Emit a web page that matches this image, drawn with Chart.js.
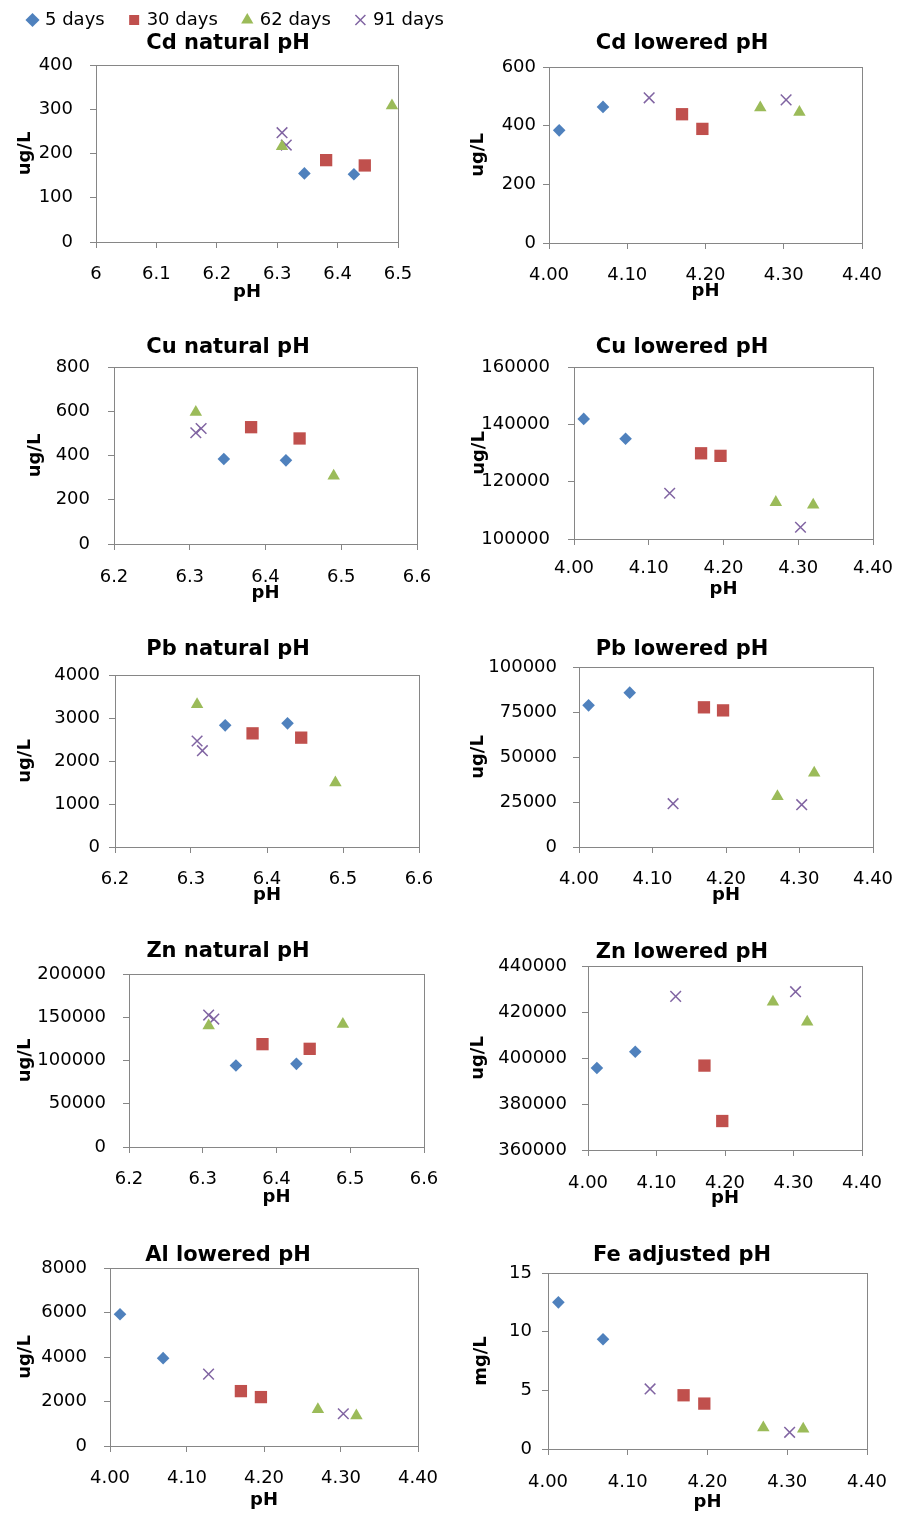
<!DOCTYPE html>
<html>
<head>
<meta charset="utf-8">
<script src="https://cdn.jsdelivr.net/npm/chart.js@4.4.0/dist/chart.umd.min.js"></script>
<style>
html,body{margin:0;padding:0;background:#fff;}
body{width:897px;height:1513px;position:relative;overflow:hidden;}
canvas{position:absolute;}
</style>
</head>
<body>
<script>
// ---------- DATA ----------
const seriesNames = ['5 days', '30 days', '62 days', '91 days'];

// pH of the two samples in each series
const phNatural = [[6.345, 6.427], [6.381, 6.445], [6.308, 6.490], [6.308, 6.315]];
const phLowered = [[4.013, 4.069], [4.170, 4.196], [4.270, 4.320], [4.128, 4.303]];

// concentrations (same order as pH arrays)
const cdNatural  = [[155, 153], [185, 173], [216, 308], [247, 219]];
const cdLowered  = [[384, 464], [439, 389], [461, 446], [495, 488]];
const cuNatural  = [[384, 378], [528, 477], [596, 308], [503, 522]];
const cuLowered  = [[141900, 134950], [129900, 129000], [112800, 111900], [115960, 104100]];
const pbNatural  = [[2829, 2876], [2643, 2543], [3318, 1496], [2465, 2240]];
const pbLowered  = [[78700, 85740], [77600, 75900], [28150, 41100], [24070, 23520]];
const znNatural  = [[94200, 96100], [118900, 113500], [140150, 142100], [152500, 147900]];
const znLowered  = [[395650, 402750], [396700, 372600], [424350, 415650], [426800, 428840]];
const alLowered  = [[5921, 3948], [2467, 2198], [1645, 1361], [3230, 1450]];
const feAdjusted = [[12.5, 9.36], [4.58, 3.87], [1.82, 1.71], [5.12, 1.42]];

// tick labels
const xLabelsNaturalCd = ['6', '6.1', '6.2', '6.3', '6.4', '6.5'];
const xLabelsNatural   = ['6.2', '6.3', '6.4', '6.5', '6.6'];
const xLabelsLowered   = ['4.00', '4.10', '4.20', '4.30', '4.40'];
const yLabelsCdNatural  = ['0', '100', '200', '300', '400'];
const yLabelsCdLowered  = ['0', '200', '400', '600'];
const yLabelsCuNatural  = ['0', '200', '400', '600', '800'];
const yLabelsCuLowered  = ['100000', '120000', '140000', '160000'];
const yLabelsPbNatural  = ['0', '1000', '2000', '3000', '4000'];
const yLabelsPbLowered  = ['0', '25000', '50000', '75000', '100000'];
const yLabelsZnNatural  = ['0', '50000', '100000', '150000', '200000'];
const yLabelsZnLowered  = ['360000', '380000', '400000', '420000', '440000'];
const yLabelsAlLowered  = ['0', '2000', '4000', '6000', '8000'];
const yLabelsFeAdjusted = ['0', '5', '10', '15'];

const panels = [
  {title: 'Cd natural pH', ph: phNatural, values: cdNatural, xLabels: xLabelsNaturalCd, yLabels: yLabelsCdNatural, yTitle: 'ug/L'},
  {title: 'Cd lowered pH', ph: phLowered, values: cdLowered, xLabels: xLabelsLowered, yLabels: yLabelsCdLowered, yTitle: 'ug/L'},
  {title: 'Cu natural pH', ph: phNatural, values: cuNatural, xLabels: xLabelsNatural, yLabels: yLabelsCuNatural, yTitle: 'ug/L'},
  {title: 'Cu lowered pH', ph: phLowered, values: cuLowered, xLabels: xLabelsLowered, yLabels: yLabelsCuLowered, yTitle: 'ug/L'},
  {title: 'Pb natural pH', ph: phNatural, values: pbNatural, xLabels: xLabelsNatural, yLabels: yLabelsPbNatural, yTitle: 'ug/L'},
  {title: 'Pb lowered pH', ph: phLowered, values: pbLowered, xLabels: xLabelsLowered, yLabels: yLabelsPbLowered, yTitle: 'ug/L'},
  {title: 'Zn natural pH', ph: phNatural, values: znNatural, xLabels: xLabelsNatural, yLabels: yLabelsZnNatural, yTitle: 'ug/L'},
  {title: 'Zn lowered pH', ph: phLowered, values: znLowered, xLabels: xLabelsLowered, yLabels: yLabelsZnLowered, yTitle: 'ug/L'},
  {title: 'Al lowered pH', ph: phLowered, values: alLowered, xLabels: xLabelsLowered, yLabels: yLabelsAlLowered, yTitle: 'ug/L'},
  {title: 'Fe adjusted pH', ph: phLowered, values: feAdjusted, xLabels: xLabelsLowered, yLabels: yLabelsFeAdjusted, yTitle: 'mg/L'}
];

// ---------- STYLE / LAYOUT ----------
const seriesStyles = [
  {pointStyle: 'rectRot',  color: '#4F81BD', radius: 6.3, border: 0},
  {pointStyle: 'rect',     color: '#C0504D', radius: 8.7, border: 0},
  {pointStyle: 'triangle', color: '#9BBB59', radius: 7.2, border: 0},
  {pointStyle: 'crossRot', color: '#8064A2', radius: 7.5, border: 1.5}
];

// plot-area boxes and text anchor positions measured on the page
const boxes = [
  {L: 96,  T: 65,   R: 398, B: 242,  tcy: 44,   ycx: 25,  ygap: 23, xtc: 274.5, pcy: 292},
  {L: 549, T: 67,   R: 862, B: 243,  tcy: 44,   ycx: 478, ygap: 13, xtc: 275,   pcy: 291},
  {L: 114, T: 367,  R: 417, B: 544,  tcy: 348,  ycx: 35,  ygap: 24, xtc: 577,   pcy: 593},
  {L: 574, T: 367,  R: 873, B: 539,  tcy: 348,  ycx: 479, ygap: 24, xtc: 568,   pcy: 589},
  {L: 115, T: 675,  R: 419, B: 847,  tcy: 650,  ycx: 25,  ygap: 15, xtc: 879,   pcy: 895},
  {L: 579, T: 667,  R: 873, B: 847,  tcy: 650,  ycx: 478, ygap: 22, xtc: 879,   pcy: 895},
  {L: 129, T: 974,  R: 424, B: 1147, tcy: 952,  ycx: 25,  ygap: 23, xtc: 1179,  pcy: 1197},
  {L: 588, T: 966,  R: 862, B: 1150, tcy: 953,  ycx: 478, ygap: 21, xtc: 1183,  pcy: 1198},
  {L: 110, T: 1268, R: 418, B: 1446, tcy: 1256, ycx: 25,  ygap: 23, xtc: 1478,  pcy: 1500},
  {L: 548, T: 1273, R: 867, B: 1449, tcy: 1256, ycx: 481, ygap: 16, xtc: 1482,  pcy: 1502}
];

const FRAME = '#868686';
const TITLE_SIZE = 21, TICK_SIZE = 18, AXIS_TITLE_SIZE = 18, LEGEND_SIZE = 18, LEGEND_PAD = 26;

Chart.defaults.font.family = "'DejaVu Sans', sans-serif";
Chart.defaults.color = '#000';

const framePlugin = {
  id: 'frame',
  beforeDatasetsDraw(chart) {
    const {ctx, chartArea: a} = chart;
    ctx.save();
    ctx.strokeStyle = FRAME;
    ctx.lineWidth = 1;
    ctx.strokeRect(Math.round(a.left) + 0.5, Math.round(a.top) + 0.5,
                   Math.round(a.right - a.left), Math.round(a.bottom - a.top));
    ctx.restore();
  }
};

function makeChart(panel, i) {
  const b = boxes[i];
  const leftCol = i % 2 === 0;
  let x0 = leftCol ? 3 : 468, w = leftCol ? 450 : 428;
  const tLH = TITLE_SIZE;
  let y0, tPadTop;
  if (i === 0) {
    x0 = -14; w = 484;
    y0 = -15;
    const legendBottom = y0 + LEGEND_SIZE + LEGEND_PAD + 10;
    tPadTop = b.tcy - tLH / 2 - legendBottom;
  } else {
    y0 = Math.floor(b.tcy - tLH / 2);
    tPadTop = b.tcy - tLH / 2 - y0;
  }
  const tPadBottom = b.T - (b.tcy + tLH / 2);
  const bottom = Math.round(b.pcy + AXIS_TITLE_SIZE / 2);
  const h = bottom - y0;
  const xH = bottom - b.B;
  const yW = b.L - x0;
  const padR = x0 + w - b.R;
  const yTitlePad = b.ycx - x0 - AXIS_TITLE_SIZE / 2;
  const yTickPad = b.ygap - 6;
  const xTickPad = b.xtc - b.B - 6 - TICK_SIZE * 0.6;

  const cv = document.createElement('canvas');
  cv.width = w; cv.height = h;
  cv.style.left = x0 + 'px'; cv.style.top = y0 + 'px';
  cv.style.width = w + 'px'; cv.style.height = h + 'px';
  document.body.appendChild(cv);

  const xVals = panel.xLabels.map(Number);
  const yVals = panel.yLabels.map(Number);

  const datasets = seriesNames.map((name, s) => ({
    label: name,
    data: panel.ph[s].map((p, k) => ({x: p, y: panel.values[s][k]})),
    pointStyle: seriesStyles[s].pointStyle,
    pointRadius: seriesStyles[s].radius,
    pointHoverRadius: seriesStyles[s].radius,
    backgroundColor: seriesStyles[s].color,
    borderColor: seriesStyles[s].color,
    borderWidth: seriesStyles[s].border,
    pointBorderWidth: seriesStyles[s].border,
    showLine: false,
    clip: false
  }));

  const gridOpts = {display: true, drawOnChartArea: false, drawTicks: true, tickLength: 6, color: FRAME, lineWidth: 1};

  new Chart(cv, {
    type: 'scatter',
    data: {datasets},
    options: {
      responsive: false,
      animation: false,
      devicePixelRatio: 1,
      events: [],
      layout: {padding: 0},
      plugins: {
        tooltip: {enabled: false},
        legend: i === 0 ? {
          display: true, position: 'top', align: 'end', weight: 3000,
          labels: {usePointStyle: true, boxWidth: 7, boxHeight: 10, padding: LEGEND_PAD,
                   color: '#000', font: {size: LEGEND_SIZE}}
        } : {display: false},
        title: {
          display: true, text: panel.title, color: '#000',
          font: {size: TITLE_SIZE, weight: 'bold', lineHeight: 1},
          padding: {top: tPadTop, bottom: tPadBottom}
        }
      },
      scales: {
        x: {
          type: 'linear', position: 'bottom',
          min: xVals[0], max: xVals[xVals.length - 1],
          afterBuildTicks: s => { s.ticks = xVals.map(v => ({value: v})); },
          afterFit: s => { s.height = xH; s.paddingLeft = 0; s.paddingRight = padR; },
          ticks: {autoSkip: false, maxRotation: 0, minRotation: 0, padding: xTickPad, color: '#000',
                  font: {size: TICK_SIZE}, callback: (v, k) => panel.xLabels[k]},
          grid: gridOpts,
          border: {display: false},
          title: {display: true, text: 'pH', color: '#000',
                  font: {size: AXIS_TITLE_SIZE, weight: 'bold', lineHeight: 1}, padding: {top: 0, bottom: 0}}
        },
        y: {
          type: 'linear', position: 'left',
          min: yVals[0], max: yVals[yVals.length - 1],
          afterBuildTicks: s => { s.ticks = yVals.map(v => ({value: v})); },
          afterFit: s => { s.width = yW; s.paddingTop = 0; s.paddingBottom = 0; },
          ticks: {autoSkip: false, padding: yTickPad, color: '#000',
                  font: {size: TICK_SIZE}, callback: (v, k) => panel.yLabels[k]},
          grid: gridOpts,
          border: {display: false},
          title: {display: true, text: panel.yTitle, color: '#000',
                  font: {size: AXIS_TITLE_SIZE, weight: 'bold', lineHeight: 1}, padding: {top: yTitlePad, bottom: 0}}
        }
      }
    },
    plugins: [framePlugin]
  });
}

panels.forEach(makeChart);
</script>
</body>
</html>
